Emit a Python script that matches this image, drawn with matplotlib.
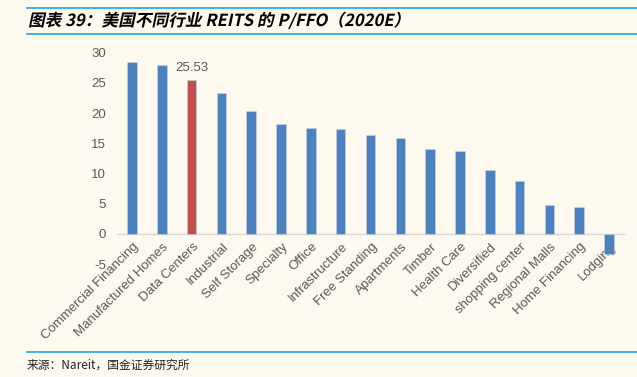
import matplotlib.pyplot as plt
from matplotlib.lines import Line2D
from matplotlib.textpath import TextPath
from matplotlib.patches import PathPatch
from matplotlib.font_manager import FontProperties
from matplotlib.transforms import Affine2D, ScaledTranslation

# data
categories = ["Commercial Financing", "Manufactured Homes", "Data Centers", "Industrial",
              "Self Storage", "Specialty", "Office", "Infrastructure", "Free Standing",
              "Apartments", "Timber", "Health Care", "Diversified", "shopping center",
              "Regional Malls", "Home Financing", "Lodging"]
pffo = [28.4, 28.0, 25.53, 23.4, 20.4, 18.2, 17.5, 17.3, 16.3, 15.9, 14.1, 13.7,
        10.5, 8.8, 4.75, 4.5, -3.3]
highlight = "Data Centers"
yticks = [-5, 0, 5, 10, 15, 20, 25, 30]
title = "图表 39：美国不同行业 REITS 的 P/FFO（2020E）"
source = "来源：Nareit，国金证券研究所"

plt.rcParams['font.family'] = ['Liberation Sans', 'Noto Sans CJK SC', 'DejaVu Sans']
plt.rcParams['axes.unicode_minus'] = False
bg = "#fdf9ef"
blue = "#4f81bd"
red = "#c0504d"
gray = "#595959"
line_blue = "#1ea7ef"

fig = plt.figure(figsize=(6.37, 3.77), dpi=100, facecolor=bg)
ax = fig.add_axes([0.1837, 0.2997, 0.7959, 0.5605])
ax.set_facecolor(bg)

colors = [red if c == highlight else blue for c in categories]
x = list(range(len(categories)))
ax.bar(x, pffo, width=0.32, color=colors, edgecolor="#c8d6ea", linewidth=0.4, zorder=2)

# подпись для выделенного столбца
i = categories.index(highlight)
ax.annotate(f"{pffo[i]:.2f}", (x[i], pffo[i]), xytext=(0, 4), textcoords="offset points",
            ha="center", va="bottom", fontsize=9.5, color=gray)

ax.set_xlim(-0.5, len(categories) - 0.5)
ax.set_ylim(-5, 30)
ax.set_yticks(yticks)
ax.set_yticklabels([str(v) for v in yticks])
ax.tick_params(axis="y", length=0, pad=8, labelsize=9.5, labelcolor=gray)

for s in ["left", "right", "top"]:
    ax.spines[s].set_visible(False)
ax.spines["bottom"].set_position(("data", 0))
ax.spines["bottom"].set_color("#d9d9d9")
ax.spines["bottom"].set_linewidth(1.0)
ax.spines["bottom"].set_zorder(1)

ax.set_xticks(x)
ax.set_xticklabels(categories, rotation=45, ha="right", va="center", rotation_mode="anchor")
ax.tick_params(axis="x", length=0, pad=8, labelsize=9.5, labelcolor=gray)
shift = ScaledTranslation(5 / 100, 0, fig.dpi_scale_trans)
for lab in ax.get_xticklabels():
    lab.set_transform(lab.get_transform() + shift)

# заголовок (наклонный, как в оригинале) и линии
fig.add_artist(Line2D([27 / 637, 1], [1 - 8 / 377] * 2, color=line_blue, lw=1.2))
fig.add_artist(Line2D([27 / 637, 1], [1 - 34 / 377] * 2, color=line_blue, lw=1.2))
fig.add_artist(Line2D([27 / 637, 1], [1 - 352 / 377] * 2, color=line_blue, lw=1.2))
fp = FontProperties(family=['Noto Sans CJK SC'], weight='bold', size=12)
tp = TextPath((0, 0), title, prop=fp)
tr = Affine2D().skew_deg(12, 0).scale(1 / 72).translate(28 / 100, (377 - 26) / 100) + fig.dpi_scale_trans
fig.add_artist(PathPatch(tp, transform=tr, facecolor="black", edgecolor="none"))
fig.text(27 / 637, 1 - 365 / 377, source, fontsize=8.5, color="#222222",
         va="center", ha="left", family=['Noto Sans CJK SC', 'DejaVu Sans'])

fig.savefig("out.png", dpi=100, facecolor=bg)
